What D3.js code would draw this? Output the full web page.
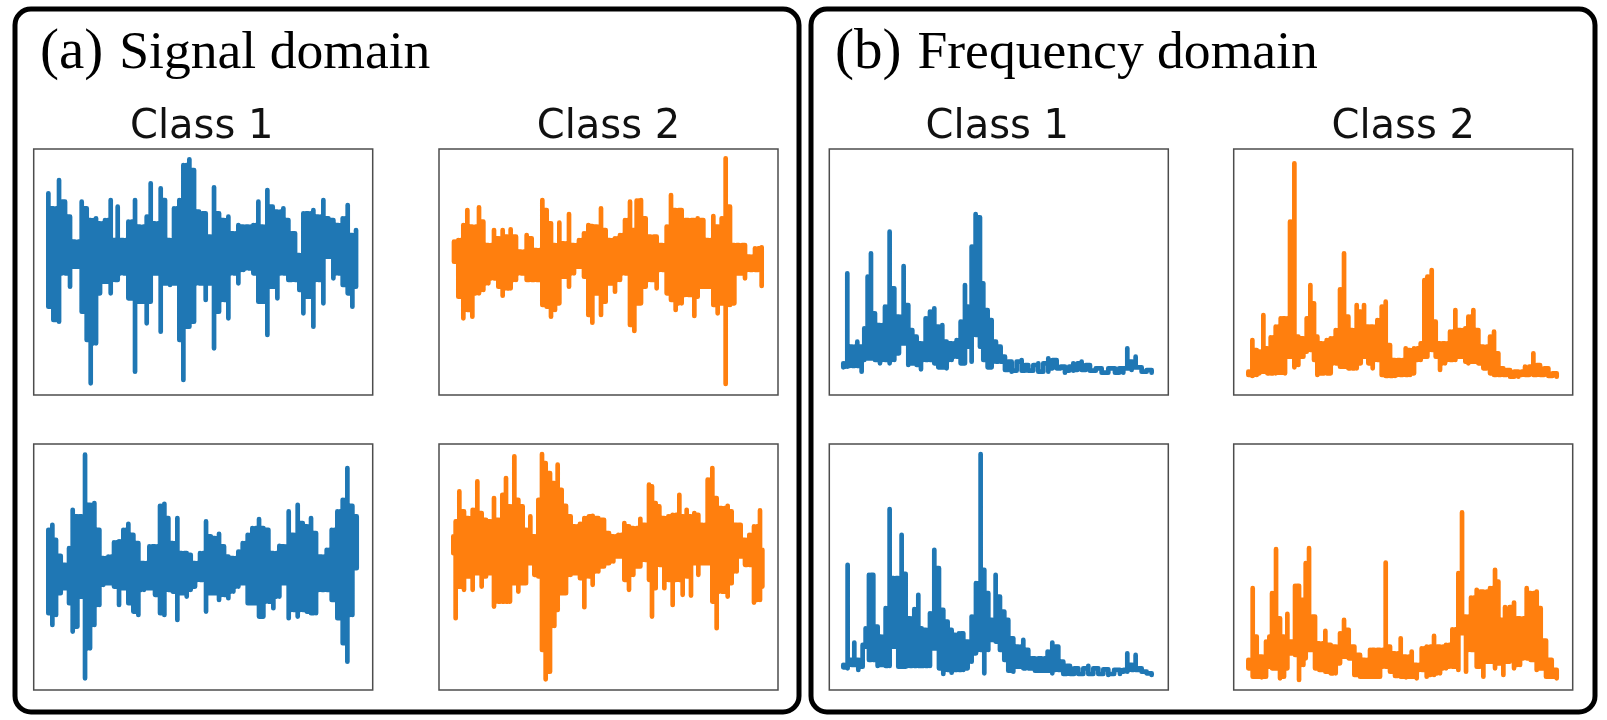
<!DOCTYPE html>
<html>
<head>
<meta charset="utf-8">
<title>Signal and frequency domain</title>
<script src="https://cdn.jsdelivr.net/npm/d3@7"></script>
<style>
    html, body { margin: 0; padding: 0; background: #fff; }
    svg { display: block; }
    .title { font-family: "Liberation Serif", serif; font-size: 53.6px; fill: #000; }
    .tag { font-size: 57px; }
    .classLabel { font-family: "DejaVu Sans", sans-serif; font-size: 40px; fill: #111; text-anchor: middle; filter: blur(0.5px); }
    .frame { fill: none; stroke: #4d4d4d; stroke-width: 1.5; filter: blur(0.3px); }
    .box { fill: none; stroke: #000; stroke-width: 5; }
    .trace { fill: none; stroke-width: 4.7; stroke-linejoin: round; stroke-linecap: round; filter: blur(0.4px); }
</style>
</head>
<body>
<svg id="chart" width="1607" height="720"></svg>
<script>
var tags = ['(a)', '(b)'];
var titles = ['Signal domain', 'Frequency domain'];
var classNames = ['Class 1', 'Class 2'];
var classColors = ['#1f77b4', '#ff7f0e'];

// each trace swings between a high and a low reading at every position
var sigC1TopX = [85,100,117,135,150,165,185,200,212,228,240,255,272,285,293,310,325,345,360,380,392,405,422,435,450,462,478,490,508,522,537,557,570,582,597,612,625,640,655,670,685,700,715,728,742,758,772,790,805,825,838,850,865,880,895,910,925,940,955,968,983,997,1008];
var sigC1TopHigh = [610,565,650,585,540,465,585,565,530,535,520,530,590,470,570,470,525,590,510,540,640,520,625,590,470,565,590,695,712,680,555,550,480,628,550,530,540,490,515,510,510,515,585,510,620,570,555,565,530,490,425,550,550,560,540,590,535,530,515,535,575,485,500];
var sigC1TopLow = [270,230,225,370,330,390,255,170,40,160,310,345,310,350,350,370,295,75,285,220,285,370,195,340,335,340,170,50,210,225,340,290,340,145,255,290,235,370,340,380,385,370,285,285,185,330,295,370,350,350,320,250,300,210,350,280,420,355,370,335,310,270,330];

var sigC2TopX = [117,130,145,157,172,192,205,220,237,250,263,277,287,303,318,335,350,365,382,395,408,420,433,447,462,477,492,507,520,532,545,558,572,585,600,615,630,645,658,665,678,692,707,725,742,755,768,782,800,820,838,848,865,880,895,908,920,932,945,958,972,990,1005,1020,1040];
var sigC2TopHigh = [465,470,515,560,510,568,525,455,500,475,500,480,502,480,435,485,475,440,590,560,520,455,522,460,548,455,470,490,515,512,510,565,500,470,475,485,530,585,500,588,590,535,480,480,455,510,605,560,560,530,530,535,530,470,542,510,535,715,570,455,455,455,420,445,448];
var sigC2TopLow = [405,300,235,260,240,310,320,340,355,330,303,325,325,350,370,350,350,350,275,270,240,260,280,360,330,370,390,360,245,222,310,245,285,340,315,350,370,215,197,280,280,330,350,325,380,310,290,260,280,305,242,300,330,330,275,250,280,38,275,280,370,355,380,380,332];

var sigC1BottomX = [85,97,108,122,135,147,158,172,185,195,210,223,238,250,265,282,297,310,325,340,355,372,388,405,420,433,445,458,472,485,500,512,525,540,558,572,585,597,612,625,640,655,668,683,697,717,730,745,760,778,792,806,820,833,848,860,873,888,905,920,935,952,968,982,997,1010];
var sigC1BottomHigh = [470,485,440,392,365,415,530,510,510,695,545,550,470,385,390,432,435,470,488,455,430,370,420,420,542,548,505,430,505,400,400,395,370,400,495,450,445,458,420,390,385,405,430,455,475,502,475,470,400,422,420,525,455,545,490,480,505,460,390,410,470,525,560,655,542,510];
var sigC1BottomLow = [220,185,215,280,295,250,165,180,270,25,115,185,245,305,310,300,245,295,250,225,215,290,295,275,220,215,290,285,200,280,270,290,300,320,225,280,280,260,275,265,285,300,310,250,250,210,210,255,235,270,310,205,230,210,230,225,220,220,290,290,260,205,130,75,215,355];

var sigC2BottomX = [115,122,133,147,160,173,187,200,213,225,237,250,262,273,285,298,310,323,333,346,358,370,381,392,405,418,428,440,453,467,480,495,508,522,533,550,567,582,595,610,628,642,655,676,690,702,711,722,733,748,760,773,793,803,815,828,838,850,862,878,892,905,920,938,950,965,977,990,1003,1017,1035,1042];
var sigC2BottomHigh = [450,495,585,525,505,530,615,520,500,495,565,500,575,625,540,690,560,540,470,510,450,560,697,670,640,610,665,590,542,510,480,488,505,510,512,505,500,460,450,455,490,480,475,503,485,605,600,550,540,505,510,515,575,510,530,510,520,515,485,620,655,565,535,542,525,485,485,440,455,480,528,410];
var sigC2BottomLow = [400,205,300,290,330,290,340,300,330,340,240,255,255,255,255,310,285,310,310,370,335,330,110,22,45,182,230,280,280,335,340,325,238,330,305,345,360,370,375,390,320,290,335,360,380,320,210,295,365,295,320,245,320,275,330,273,370,335,370,370,255,175,285,270,310,345,390,365,365,252,260,300];

var freqC1TopX = [145,157,172,187,200,208,218,228,240,255,270,284,298,312,326,340,352,365,378,392,405,418,430,442,455,470,485,497,510,520,530,542,555,565,578,590,603,617,630,650,680,700,730,760,785,810,835,860,885,920,960,985,997,1010,1022,1040,1070];
var freqC1TopHigh = [100,370,150,165,150,205,360,430,250,215,270,495,325,240,392,275,200,180,160,235,255,265,210,215,165,160,170,225,335,270,450,548,538,340,260,230,165,150,120,105,110,95,100,115,110,90,100,105,95,85,85,85,145,105,120,88,80];
var freqC1TopLow = [88,90,92,92,75,110,115,115,110,100,110,100,110,130,160,95,100,95,82,110,110,100,88,88,85,110,120,100,100,150,105,185,150,110,88,88,105,105,80,75,78,78,75,75,85,72,78,80,78,72,72,72,85,80,88,75,72];

var freqC2TopX = [175,187,200,208,220,232,242,257,272,285,300,313,325,340,350,361,372,382,395,410,422,437,450,462,475,487,500,512,522,535,548,562,575,587,600,615,630,647,660,672,692,703,712,725,737,750,765,780,796,812,826,835,850,865,880,900,912,925,940,960,985,1005,1030,1050,1075,1100];
var freqC2TopHigh = [75,170,140,135,245,145,178,210,235,235,525,700,180,175,235,335,280,180,160,170,175,200,322,430,240,200,275,255,275,210,210,230,270,285,155,110,110,145,140,145,160,350,360,380,225,160,160,195,260,200,205,240,260,200,150,180,195,130,85,80,75,90,130,95,85,70];
var freqC2TopLow = [65,62,65,70,75,70,70,70,72,70,120,88,95,120,135,140,110,65,70,70,70,100,90,90,85,85,85,100,120,100,85,110,65,62,62,62,65,65,65,70,110,120,120,140,120,80,100,110,110,120,105,100,105,100,85,70,65,65,65,60,60,65,65,65,62,60];

var freqC1BottomX = [145,158,170,178,190,203,212,222,235,248,258,272,284,296,310,320,332,345,358,370,380,392,405,418,432,445,458,470,480,492,505,518,530,543,557,568,580,590,602,615,628,640,655,670,685,700,720,740,758,772,790,805,825,850,880,910,940,975,997,1010,1022,1040,1070];
var freqC1BottomHigh = [65,365,80,132,80,120,175,335,335,180,150,235,532,325,325,455,338,205,232,275,175,170,220,410,355,230,195,170,155,160,160,135,210,310,697,350,280,200,335,270,225,200,145,120,140,110,85,85,105,132,120,75,62,55,62,55,52,50,100,65,95,55,40];
var freqC1BottomLow = [58,55,65,65,50,60,125,80,80,62,65,62,62,120,60,60,60,62,62,62,62,62,62,115,55,38,50,42,50,50,50,55,75,100,110,40,110,140,135,110,80,48,45,60,55,55,48,48,48,40,50,38,38,38,38,38,35,38,45,50,50,45,35];

var freqC2BottomX = [175,188,200,215,228,238,246,258,270,282,292,304,315,327,340,347,357,375,388,406,422,437,450,462,476,493,510,525,540,553,570,587,600,615,632,648,665,680,695,710,732,750,768,787,805,816,828,843,860,880,900,915,925,940,945,972,990,1010,1022,1040,1052,1068,1085,1100];
var freqC2BottomHigh = [80,295,150,90,135,150,280,412,205,150,218,135,302,302,260,370,415,210,130,167,125,120,160,200,170,120,95,80,110,110,110,372,120,100,145,90,105,65,115,120,152,120,125,172,340,522,210,267,290,285,295,350,315,200,238,252,205,295,280,285,235,138,80,50];
var freqC2BottomLow = [55,30,30,28,30,60,55,55,25,30,55,100,95,20,65,85,110,55,50,45,40,40,70,90,85,35,30,30,30,30,30,60,45,32,30,28,30,25,50,30,35,40,55,60,50,160,45,110,60,30,75,55,70,35,75,55,65,85,80,50,55,30,30,25];

var svg = d3.select('#chart');
var panelWidth = 339;
var panelHeight = 246;
var rowTops = [149, 444];
var rowDomains = [[5, 743], [-10, 727]];
var labelNudge = [-1.5, 0];

var groups = [
    {left: 15, right: 799, titleX: 40, columns: [33.7, 439]},
    {left: 811, right: 1595, titleX: 835, columns: [829.3, 1233.7]}
];

// where the x readings of each panel start and stop
var xDomains = [[[41, 1058], [72, 1089]], [[103, 1120], [131, 1148]]];

var traces = [
    [[[sigC1TopX, sigC1TopHigh, sigC1TopLow], [sigC1BottomX, sigC1BottomHigh, sigC1BottomLow]],
     [[sigC2TopX, sigC2TopHigh, sigC2TopLow], [sigC2BottomX, sigC2BottomHigh, sigC2BottomLow]]],
    [[[freqC1TopX, freqC1TopHigh, freqC1TopLow], [freqC1BottomX, freqC1BottomHigh, freqC1BottomLow]],
     [[freqC2TopX, freqC2TopHigh, freqC2TopLow], [freqC2BottomX, freqC2BottomHigh, freqC2BottomLow]]]
];

groups.forEach(function(group, g) {
    svg.append('rect')
        .attr('class', 'box')
        .attr('x', group.left)
        .attr('y', 9)
        .attr('width', group.right - group.left)
        .attr('height', 703)
        .attr('rx', 16);

    var title = svg.append('text')
        .attr('class', 'title')
        .attr('x', group.titleX)
        .attr('y', 68);
    title.append('tspan').attr('class', 'tag').text(tags[g]);
    title.append('tspan').attr('dx', 16).text(titles[g]);

    group.columns.forEach(function(left, c) {
        svg.append('text')
            .attr('class', 'classLabel')
            .attr('x', left + panelWidth / 2 + labelNudge[c])
            .attr('y', 138)
            .text(classNames[c]);

        rowTops.forEach(function(top, r) {
            drawPanel(left, top, xDomains[g][c], rowDomains[r], traces[g][c][r], classColors[c]);
        });
    });
});

// blocky sweep: full swing at each reading, then the band both neighbours share in between
function tracePoints(trace) {
    var pos = trace[0], high = trace[1], low = trace[2];
    var points = [];
    pos.forEach(function(p, i) {
        points.push([p, high[i]]);
        points.push([p, low[i]]);
        if (i == pos.length - 1) return;
        var mid = (p + pos[i + 1]) / 2;
        var sharedHigh = Math.min(high[i], high[i + 1]);
        var sharedLow = Math.max(low[i], low[i + 1]);
        points.push([p, sharedLow]);
        points.push([mid, sharedLow]);
        points.push([mid, sharedHigh]);
        points.push([pos[i + 1], sharedHigh]);
    });
    return points;
}

function drawPanel(left, top, xDomain, yDomain, trace, color) {
    var x = d3.scaleLinear().domain(xDomain).range([left, left + panelWidth]);
    var y = d3.scaleLinear().domain(yDomain).range([top + panelHeight, top]);

    var line = d3.line()
        .x(function(d) { return x(d[0]); })
        .y(function(d) { return y(d[1]); });

    svg.append('path')
        .datum(tracePoints(trace))
        .attr('class', 'trace')
        .attr('stroke', color)
        .attr('d', line);

    svg.append('rect')
        .attr('class', 'frame')
        .attr('x', left)
        .attr('y', top)
        .attr('width', panelWidth)
        .attr('height', panelHeight);
}
</script>
</body>
</html>
